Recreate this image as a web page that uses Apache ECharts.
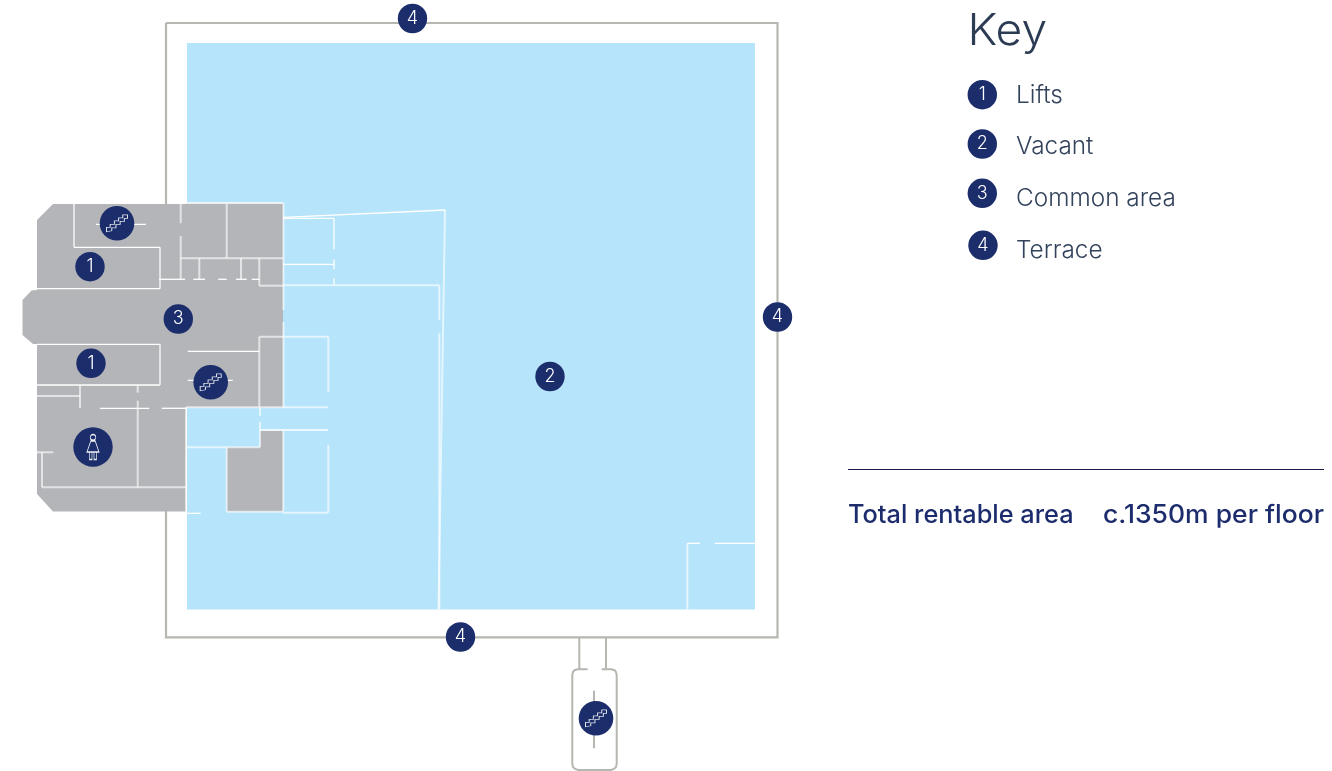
<!DOCTYPE html>
<html><head><meta charset="utf-8">
<style>html,body{margin:0;padding:0;background:#fff}#c{width:1332px;height:771px}</style>
<script src="https://cdn.jsdelivr.net/npm/echarts@6/dist/echarts.min.js"></script>
</head><body><div id="c"></div>
<script>
// Plan values (plan units match the axes)
const vacantArea = [[187,43],[755,43],[755,609.5],[187,609.5]];
const commonAreas = [
  [[53,204],[186,204],[186,203],[283,203],[283,407.5],[186,407.5],[186,511.5],[53,511.5],[37,494],[37,344],[33,344],[22.5,335],[22.5,300],[31.5,290.5],[37,290],[37,220]],
  [[226.7,447.3],[260,447.3],[260,431],[283,431],[283,511.5],[226.7,511.5]]
];
const terraceFrame = [[166,23],[777.5,23],[777.5,637.3],[166,637.3],[166,23]];
const stairConnectors = [
  [[579.3,637],[579.3,669.3]],
  [[606,637],[606,669.3]],
  [[587.7,669.3],[577.5,669.3],[574.5,670.2],[573,672],[572.3,675],[572.3,764],[573,767],[575,769],[578,770],[611,770],[614,769],[616,767],[616.7,764],[616.7,675],[616,672],[614.5,670.2],[611.5,669.3],[601.7,669.3]],
  [[594,690.7],[594,748.3]]
];
const crispWalls = [
  [[37,288.7],[160,288.7]],[[74,247.3],[160,247.3]],[[37,344.3],[160,344.3]],[[37,385],[160,385]],
  [[187.7,351.3],[259.3,351.3]],[[96,224.3],[146,224.3]],[[187.7,380.3],[232.7,380.3]],
  [[159,279.3],[185,279.3]],[[193.3,279.3],[205,279.3]],[[218.3,279.3],[226.7,279.3]],[[236,279.3],[246.7,279.3]],[[251.7,279.3],[259.3,279.3]],
  [[100,408.3],[149.3,408.3]],[[161.7,408.3],[186,408.3]],[[186,513.3],[200.7,513.3]],
  [[283.3,217.3],[445,210]],[[283,218.3],[334,218.3]],[[283,264.3],[334,264.3]],[[260,430],[328,430]],
  [[687.3,543.3],[700,543.3]],[[715,543.3],[755,543.3]],[[186,203],[283,203]]
];
const softWalls = [
  [[74,204],[74,247.3]],[[160,247.3],[160,288.7]],[[160,344.3],[160,385]],
  [[180.7,204],[180.7,223.3]],[[180.7,236],[180.7,279]],[[226.7,204],[226.7,258.3]],
  [[180.7,258.3],[283,258.3]],[[199.3,258.3],[199.3,279]],[[241,258.3],[241,279]],[[259.3,258.3],[259.3,285.7]],
  [[259.3,285.7],[283,285.7]],[[283.5,203],[283.5,310]],[[283.5,322],[283.5,407.5]],
  [[259.3,336.7],[259.3,407.3]],[[259.3,336.7],[328.3,336.7]],[[328.3,336.7],[328.3,392]],
  [[80,385],[80,408.3]],[[37,396],[80,396]],[[137.7,385],[137.7,392.7]],[[137.7,400.7],[137.7,487.3]],
  [[186,407.3],[328.3,407.3]],[[260,408],[260,416]],[[260,421.7],[260,447.3]],[[186,447.3],[260,447.3]],
  [[186,407.3],[186,511.5]],[[283.3,431],[283.3,511.5]],[[226.7,447.3],[226.7,511.7]],[[226.7,511.7],[283,511.7]],
  [[328.3,445],[328.3,512.7]],[[283,512.7],[328.3,512.7]],
  [[37,452.3],[53.3,452.3]],[[42,452.3],[42,487.3]],[[42,487.3],[186,487.3]],
  [[334,218.3],[334,249.3]],[[334,259.3],[334,269.3]],[[334,278.3],[334,285.3]],
  [[283,285.3],[439.3,285.3]],[[439.3,285.3],[439.3,320]],[[439.3,333.3],[439.3,609.5]],
  [[445,210],[438.5,609.5]],[[687.3,543.3],[687.3,609.5]]
];
const numberBadges = [
  [90,266.7,'1'],[178.3,319,'3'],[91,363.3,'1'],[550,376.5,'2'],
  [412.5,18.5,'4'],[777.5,317,'4'],[460.5,637,'4'],
  [982.3,94.7,'1'],[982.3,144,'2'],[982.3,193.3,'3'],[983,245.3,'4']
];
const stairBadges = [[117,223.3],[210.7,382.3],[596,718.3]];
const toiletBadges = [[93,447]];
const keyLabels = [[1016,96,'Lifts'],[1016,146.5,'Vacant'],[1016,198.5,'Common area'],[1016,250.5,'Terrace']];
const keyTitle = [[967.5,32,'Key']];
const totalLabel = [[848,515,'Total rentable area']];
const totalValue = [[1103,515,'c.1350m per floor']];
const summaryRule = [[[848,469.5],[1324,469.5]]];

const NAVY = '#1b2d6b';
const stairGlyph = 'path://M0 12.5L3.5 12.5L3.5 9.5L7.5 9.5L7.5 6L11.5 6L11.5 3L15.5 3L15.5 0L20 0L20 3.5L17 3.5L17 6.5L13 6.5L13 9.5L9 9.5L9 13L5 13L5 16L0 17Z';
const toiletGlyph = 'path://M6 0a2.8 2.8 0 1 0 .01 0ZM3.8 6.5L8.2 6.5L12 17.5L0 17.5ZM2.5 17.5L2.5 25L5 25L5 17.5M7 17.5L7 25L9.5 25L9.5 17.5';

function fills(list, color) {
  return {
    type:'custom', coordinateSystem:'cartesian2d', silent:true,
    data:list.map((_,i)=>[i]), clip:false,
    renderItem:(p,api)=>({type:'polygon',shape:{points:list[api.value(0)].map(q=>api.coord(q))},style:{fill:color}})
  };
}
function strokes(list, color, width) {
  return {
    type:'custom', coordinateSystem:'cartesian2d', silent:true,
    data:list.map((_,i)=>[i]), clip:false,
    renderItem:(p,api)=>({type:'polyline',shape:{points:list[api.value(0)].map(q=>api.coord(q))},style:{fill:null,stroke:color,lineWidth:width,lineJoin:'miter'}})
  };
}
function texts(list, size, weight, color, stretch) {
  return {
    type:'custom', coordinateSystem:'cartesian2d', silent:true,
    data:list.map(r=>[r[0],r[1]]), clip:false,
    renderItem:(p,api)=>{
      const c=api.coord([api.value(0),api.value(1)]);
      return {type:'text',x:c[0],y:c[1],scaleX:stretch,style:{text:list[p.dataIndex][2],fontFamily:'Inter',fontSize:size,fontWeight:weight,fill:color,align:'left',verticalAlign:'middle'}};
    }
  };
}
const chart = echarts.init(document.getElementById('c'),null,{renderer:'canvas'});
chart.setOption({
  animation:false,
  backgroundColor:'#fff',
  grid:{left:0,right:0,top:0,bottom:0},
  xAxis:{type:'value',min:0,max:1332,show:false},
  yAxis:{type:'value',min:0,max:771,inverse:true,show:false},
  series:[
    strokes([terraceFrame],'#b6b7b0',2.2),
    strokes(stairConnectors,'#b6b7b0',2),
    fills([vacantArea],'#b6e4fa'),
    fills(commonAreas,'#b4b5b8'),
    strokes(softWalls,'rgba(255,255,255,0.62)',2),
    strokes(crispWalls,'#ffffff',1.3),
    strokes(summaryRule,'#1a1d4e',1.2),
    {type:'scatter',silent:true,clip:false,symbol:'circle',symbolSize:29.4,
     itemStyle:{color:NAVY,opacity:1},
     data:numberBadges.map(b=>({value:[b[0],b[1]],label:{formatter:b[2]}})),
     label:{show:true,position:'inside',color:'#ffffff',fontFamily:'Inter',fontSize:18,fontWeight:300}},
    {type:'scatter',silent:true,clip:false,symbol:'circle',symbolSize:34.6,itemStyle:{color:NAVY,opacity:1},data:stairBadges},
    {type:'scatter',silent:true,clip:false,symbol:'circle',symbolSize:39.4,itemStyle:{color:NAVY,opacity:1},data:toiletBadges},
    {type:'scatter',silent:true,clip:false,symbol:stairGlyph,symbolSize:[21,17],symbolKeepAspect:false,
     itemStyle:{color:'rgba(0,0,0,0)',borderColor:'#dfe3ec',borderWidth:0.9,opacity:1},data:stairBadges},
    {type:'scatter',silent:true,clip:false,symbol:toiletGlyph,symbolSize:[12,25],symbolKeepAspect:false,
     itemStyle:{color:'rgba(0,0,0,0)',borderColor:'#f0f2f6',borderWidth:1,opacity:1},data:toiletBadges},
    texts(keyTitle,44,300,'#2c3c54',1.05),
    texts(keyLabels,24,300,'#33435c',1.015),
    texts(totalLabel,25,500,'#1c2c6c',1.013),
    texts(totalValue,25,500,'#1c2c6c',1.06)
  ]
});
</script></body></html>
